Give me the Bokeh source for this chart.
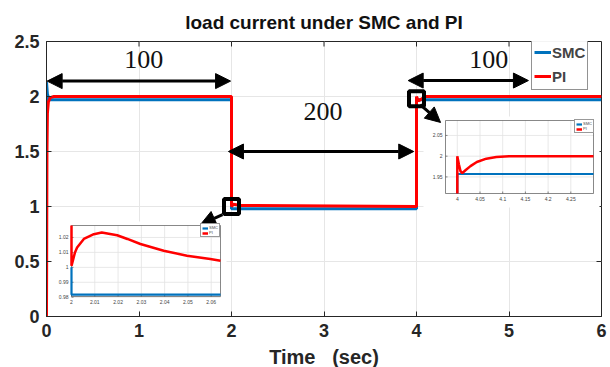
import numpy as np
from bokeh.plotting import figure
from bokeh.models import (Range1d, Arrow, NormalHead, Legend, LegendItem, FixedTicker)
from bokeh.embed import file_html
from bokeh.resources import INLINE
from bokeh.core.properties import value

# ---------------- data ----------------
x_ticks = [0, 1, 2, 3, 4, 5, 6]
y_ticks = [0, 0.5, 1, 1.5, 2, 2.5]
y_tick_labels = ["0", "0.5", "1", "1.5", "2", "2.5"]

smc_t = [0.0, 0.0, 0.01, 0.03, 2.0, 2.0, 4.0, 4.0, 6.0]
smc_i = [0.0, 2.13, 2.02, 1.97, 1.97, 0.98, 0.98, 1.97, 1.97]
pi_t = [0.0, 0.005, 0.01, 0.02, 0.04, 0.08, 2.0, 2.0, 2.02, 2.1, 4.0, 4.0, 4.02, 4.1, 6.0]
pi_i = [0.0, 1.5, 1.85, 1.95, 1.99, 2.0, 2.0, 1.0, 1.02, 1.01, 1.0, 2.0, 1.96, 2.0, 2.0]

# inset 1 (t = 2 s)
in1_xticks = [2.0, 2.01, 2.02, 2.03, 2.04, 2.05, 2.06]
in1_xlabels = ["2", "2.01", "2.02", "2.03", "2.04", "2.05", "2.06"]
in1_yticks = [0.98, 0.99, 1.0, 1.01, 1.02]
in1_ylabels = ["0.98", "0.99", "1", "1.01", "1.02"]
in1_xlim = (2.0, 2.064)
in1_ylim = (0.9805, 1.028)
in1_pi_t = [2.0, 2.0, 2.001, 2.0015, 2.0024, 2.0053, 2.0096, 2.013, 2.0196, 2.024,
            2.0296, 2.0396, 2.0496, 2.0596, 2.064]
in1_pi_i = [1.028, 1.001, 1.007, 1.010, 1.0133, 1.019, 1.0222, 1.0233, 1.0215, 1.019,
            1.0156, 1.0111, 1.0078, 1.0056, 1.0044]
in1_smc_t = [2.0, 2.0, 2.064]
in1_smc_i = [1.0, 0.9818, 0.9818]

# inset 2 (t = 4 s)
in2_xticks = [4.0, 4.05, 4.1, 4.15, 4.2, 4.25]
in2_xlabels = ["4", "4.05", "4.1", "4.15", "4.2", "4.25"]
in2_yticks = [1.95, 2.0, 2.05]
in2_ylabels = ["1.95", "2", "2.05"]
in2_xlim = (3.974, 4.30)
in2_ylim = (1.91, 2.086)
in2_pi_t = [4.0, 4.0, 4.0036, 4.007, 4.011, 4.018, 4.029, 4.043, 4.064, 4.086, 4.114, 4.30]
in2_pi_i = [1.91, 2.0, 1.98, 1.964, 1.959, 1.966, 1.976, 1.986, 1.994, 1.998, 2.0, 2.0]
in2_smc_t = [4.0, 4.0, 4.30]
in2_smc_i = [1.91, 1.957, 1.957]

# ---------------- layout ----------------
FL, FR, FT, FB = 46, 601, 37, 312     # frame edges on the page
PAGE = 0
BLUE = "#0072BD"
RED = "#FF0000"
INK = "#262626"
FONT = "Liberation Sans"

p = figure(output_backend="svg", toolbar_location=None,
           frame_width=FR - FL, frame_height=FB - FT,
           min_border_left=FL - PAGE, min_border_right=8,
           min_border_top=FT - PAGE, min_border_bottom=54,
           x_range=Range1d(0, 6), y_range=Range1d(0, 2.5),
           title="load current under SMC and PI")
p.background_fill_color = "white"
p.border_fill_color = "white"
p.outline_line_color = INK
p.outline_line_width = 1
p.title.align = "center"
p.title.text_font = FONT
p.title.text_font_size = "19px"
p.title.text_font_style = "bold"
p.title.text_color = "#111111"
p.title.standoff = 18

p.xaxis.ticker = FixedTicker(ticks=x_ticks)
p.yaxis.ticker = FixedTicker(ticks=y_ticks)
p.yaxis.major_label_overrides = {t: l for t, l in zip(y_ticks, y_tick_labels)}
for ax in (p.xaxis, p.yaxis):
    ax.axis_line_color = INK
    ax.major_tick_in = 5
    ax.major_tick_out = 0
    ax.major_tick_line_color = INK
    ax.minor_tick_line_color = None
    ax.major_label_text_font = FONT
    ax.major_label_text_font_style = "bold"
    ax.major_label_text_font_size = "18px"
    ax.major_label_text_color = INK
    ax.major_label_standoff = 7
p.xaxis.axis_label = "Time\u00a0\u00a0\u00a0(sec)"
p.xaxis.axis_label_text_font = FONT
p.xaxis.axis_label_text_font_style = "bold"
p.xaxis.axis_label_text_font_size = "20px"
p.xaxis.axis_label_text_color = INK
p.xaxis.axis_label_standoff = 6
p.grid.grid_line_color = "#e6e6e6"
p.grid.grid_line_width = 1

# box-style tick marks on the top and right edges (half of each dash is clipped)
p.scatter(x=x_ticks[1:-1], y=[y_ticks[-1]] * (len(x_ticks) - 2), marker="dash",
          angle=np.pi / 2, size=10, line_color=INK, line_width=1)
p.scatter(x=[x_ticks[-1]] * (len(y_ticks) - 2), y=y_ticks[1:-1], marker="dash",
          size=10, line_color=INK, line_width=1)

r_smc = p.line(smc_t, smc_i, color=BLUE, line_width=3)
r_pi = p.line(pi_t, pi_i, color=RED, line_width=3)

# ---------------- insets via extra ranges ----------------
def add_inset(name, box, xlim, ylim, xt, xl, yt, yl, smc_t_, smc_i_, pi_t_, pi_i_, leg_loc):
    L, R, T, B = box
    sx = (xlim[1] - xlim[0]) / (R - L)
    sy = (ylim[1] - ylim[0]) / (B - T)
    xr, yr = "x" + name, "y" + name
    p.extra_x_ranges[xr] = Range1d(xlim[0] - (L - FL) * sx, xlim[1] + (FR - R) * sx)
    p.extra_y_ranges[yr] = Range1d(ylim[0] - (FB - B) * sy, ylim[1] + (T - FT) * sy)
    kw = dict(x_range_name=xr, y_range_name=yr)
    # white panel
    p.quad(left=[xlim[0] - 22 * sx], right=[xlim[1] + 6 * sx],
           bottom=[ylim[0] - 14 * sy], top=[ylim[1] + 4 * sy],
           fill_color="white", line_color=None, **kw)
    # grid
    p.segment(x0=xt, x1=xt, y0=[ylim[0]] * len(xt), y1=[ylim[1]] * len(xt),
              line_color="#e2e2e2", line_width=0.8, **kw)
    p.segment(x0=[xlim[0]] * len(yt), x1=[xlim[1]] * len(yt), y0=yt, y1=yt,
              line_color="#e2e2e2", line_width=0.8, **kw)
    # box
    p.quad(left=[xlim[0]], right=[xlim[1]], bottom=[ylim[0]], top=[ylim[1]],
           fill_color=None, line_color="#555555", line_width=0.7, **kw)
    # tick marks
    p.segment(x0=xt, x1=xt, y0=[ylim[0]] * len(xt), y1=[ylim[0] + 2 * sy] * len(xt),
              line_color="#555555", line_width=0.7, **kw)
    p.segment(x0=[xlim[0]] * len(yt), x1=[xlim[0] + 2 * sx] * len(yt), y0=yt, y1=yt,
              line_color="#555555", line_width=0.7, **kw)
    # data
    rs = p.line(smc_t_, smc_i_, color=BLUE, line_width=2.2, **kw)
    rp = p.line(pi_t_, pi_i_, color=RED, line_width=2.5, **kw)
    # tick labels
    p.text(x=xt, y=[ylim[0]] * len(xt), text=xl, y_offset=3, text_align="center",
           text_baseline="top", text_font=value(FONT), text_font_size="5px",
           text_color="#444444", **kw)
    p.text(x=[xlim[0]] * len(yt), y=yt, text=yl, x_offset=-3, text_align="right",
           text_baseline="middle", text_font=value(FONT), text_font_size="5px",
           text_color="#444444", **kw)
    leg = Legend(items=[LegendItem(label="SMC", renderers=[rs]),
                        LegendItem(label="PI", renderers=[rp])],
                 location=leg_loc, margin=0, padding=1, spacing=0,
                 glyph_width=6, glyph_height=4, label_height=4, label_width=8,
                 label_standoff=1, label_text_font=FONT, label_text_font_size="4px",
                 border_line_color="#333333", border_line_width=0.6,
                 background_fill_alpha=1)
    p.add_layout(leg)

add_inset("1", (71, 220, 221, 292), in1_xlim, in1_ylim, in1_xticks, in1_xlabels,
          in1_yticks, in1_ylabels, in1_smc_t, in1_smc_i, in1_pi_t, in1_pi_i,
          (200 - FL, FB - 233))
add_inset("2", (445, 593, 116, 189), in2_xlim, in2_ylim, in2_xticks, in2_xlabels,
          in2_yticks, in2_ylabels, in2_smc_t, in2_smc_i, in2_pi_t, in2_pi_i,
          (574 - FL, FB - 129))

# ---------------- main legend ----------------
main_leg = Legend(items=[LegendItem(label="SMC", renderers=[r_smc]),
                         LegendItem(label="PI", renderers=[r_pi])],
                  location=(531 - FL, FB - 86), margin=0, padding=2, spacing=2,
                  glyph_width=17, glyph_height=22, label_height=22,
                  label_standoff=1, label_text_font=FONT, label_text_font_size="15px",
                  label_text_font_style="bold", border_line_color=INK,
                  border_line_width=1)
p.add_layout(main_leg)

# ---------------- annotations ----------------
def head(sz):
    return NormalHead(size=sz, fill_color="black", line_color="black")

span_arrows = [(0.007, 2.14, 1.99, 2.14), (1.967, 1.5, 3.97, 1.5), (3.91, 2.145, 5.21, 2.145)]
for x0, y0, x1, y1 in span_arrows:
    p.add_layout(Arrow(x_start=x0, y_start=y0, x_end=x1, y_end=y1,
                       start=head(15), end=head(15), line_width=3, line_color="black"))

pointer_arrows = [(1.903, 0.927, 1.665, 0.836), (4.04, 1.927, 4.26, 1.764)]
for x0, y0, x1, y1 in pointer_arrows:
    p.add_layout(Arrow(x_start=x0, y_start=y0, x_end=x1, y_end=y1,
                       end=head(15), line_width=3, line_color="black"))

zoom_x = [2.0, 4.0]
zoom_y = [1.0, 1.98]
p.scatter(zoom_x, zoom_y, marker="square", size=15, fill_color=None,
          line_color="black", line_width=4)

span_label_x = [1.05, 2.99, 4.78]
span_label_y = [2.34, 1.86, 2.34]
span_labels = ["100", "200", "100"]
p.text(x=span_label_x, y=span_label_y, text=span_labels, text_align="center",
       text_baseline="middle", text_font=value("Liberation Serif"),
       text_font_size="26px", text_color="#111111")

open("out.html", "w").write(file_html(p, INLINE))
